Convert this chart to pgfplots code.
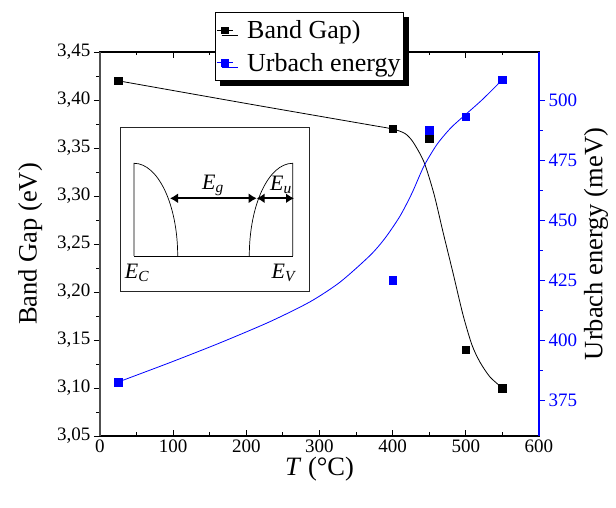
\documentclass[border=0pt]{standalone}
\usepackage{fontspec}
\setmainfont{Liberation Serif}
\usepackage{pgfplots}
\pgfplotsset{compat=1.18}
\usetikzlibrary{arrows.meta,shadows}
\definecolor{ublue}{RGB}{0,0,255}
\definecolor{lgray}{RGB}{80,80,80}

\pgfplotstableread{
T bg
25 3.42
400 3.37
450 3.36
500 3.14
550 3.10
}\bgdata

\pgfplotstableread{
T eu
25 382.5
400 425
450 487.5
500 493
550 508.5
}\eudata

\pgfplotstableread{
T bg
25 3.42
205 3.3957
369 3.374
400 3.3698
416.8 3.3651
427.8 3.3563
442.8 3.3354
456.5 3.302
468.8 3.2625
482.5 3.2198
496.2 3.176
508.4 3.1448
519.3 3.127
533 3.1115
550 3.10
}\bgfit

\pgfplotstableread{
T eu
25 382.5
95.7 390.6
164 398.8
232 407.6
287 415.9
328 424.1
369 435.2
389.5 442.4
410 451.6
426.4 461.2
442.8 472.5
460.6 481.5
478.3 488
492 491.9
522 500
550 508.5
}\eufit

\pgfplotsset{
  common/.style={
    at={(0,0)}, anchor=south west, scale only axis,
    width=439pt, height=384pt,
    xmin=0, xmax=600,
    major tick length=6pt, minor tick length=3.5pt,
    every tick/.style={line width=0.9pt},
    tick label style={font=\fontsize{19}{22}\selectfont},
    label style={font=\fontsize{26.5}{30}\selectfont},
    /pgf/number format/assume math mode=true,
  }
}

\begin{document}
\begin{tikzpicture}[x=1pt,y=1pt]
\useasboundingbox (-100,-72) rectangle (516,436);

% frame with x axis (ticks inside)
\begin{axis}[common,
  ymin=0, ymax=1, ytick=\empty,
  axis line style={line width=1.1pt, black},
  tick align=inside,
  xtick={0,100,...,600}, minor x tick num=1,
  xtick pos=both, xticklabel pos=bottom,
  xlabel={\textit{T} (°C)},
  xlabel style={yshift=2pt},
]
\end{axis}

% left axis: band gap
\begin{axis}[common,
  ymin=3.05, ymax=3.45,
  axis x line=none, axis y line*=left,
  xtick=\empty,
  y axis line style={line width=1.1pt, lgray},
  tick align=outside,
  ytick={3.05,3.10,...,3.45}, minor y tick num=1,
  yticklabel style={/pgf/number format/.cd, fixed, fixed zerofill, precision=2, use comma},
  ylabel={Band Gap (eV)},
  ylabel style={yshift=8pt},
]
\addplot[black, line width=0.8pt, smooth, tension=0.45] table[x=T,y=bg] {\bgfit};
\addplot[only marks, mark=square*, mark size=3.8pt, black] table[x=T,y=bg] {\bgdata};
\end{axis}

% right axis: Urbach energy
\begin{axis}[common,
  ymin=360, ymax=520,
  axis x line=none, axis y line*=right,
  xtick=\empty,
  y axis line style={line width=1.1pt, ublue},
  ytick style={ublue},
  tick align=outside,
  ytick={375,400,...,500}, minor y tick num=1,
  yticklabel style={text=ublue},
  ylabel={Urbach energy (meV)},
  legend style={at={(0.262,1.104)}, anchor=north west,
    font=\fontsize{26}{29}\selectfont, draw=black, line width=0.8pt, fill=white,
    inner xsep=1pt, inner ysep=6pt, row sep=9pt,
    /tikz/every odd column/.append style={column sep=12pt},
    drop shadow={shadow xshift=5pt, shadow yshift=-5pt, opacity=1, fill=black}},
  legend cell align=left,
  legend image code/.code={
    \draw[mark repeat=2,mark phase=2,#1] plot coordinates {(0pt,0pt) (8pt,0pt) (16pt,0pt)};},
]
\addlegendimage{black, line width=0.8pt, mark=square*, mark size=3.3pt, mark options={solid}}
\addlegendentry{Band Gap)}
\addlegendimage{ublue, line width=0.8pt, mark=square*, mark size=3.3pt, mark options={solid}}
\addlegendentry{Urbach energy}
\addplot[ublue, line width=0.8pt, smooth, tension=0.45, forget plot] table[x=T,y=eu] {\eufit};
\addplot[ublue, only marks, mark=square*, mark size=3.8pt, forget plot] table[x=T,y=eu] {\eudata};
\end{axis}

% inset schematic
\draw[black!85, line width=1pt, fill=white] (21,144) rectangle (209,308);
\draw[black, line width=0.7pt] (34,180) -- (34,272.7)
  .. controls (58.1,272.7) and (77.7,231.2) .. (77.7,180);
\draw[black, line width=0.7pt] (192.7,180) -- (192.7,272.7)
  .. controls (168.6,272.7) and (149.3,231.2) .. (149.3,180);
\draw[black, line width=0.7pt] (34,180) -- (192.7,180);
\draw[black, line width=2pt, {Latex[length=8pt,width=10pt]}-{Latex[length=8pt,width=10pt]}] (70,237.7) -- (156.7,237.7);
\draw[black, line width=2pt, {Latex[length=8pt,width=10pt]}-{Latex[length=8pt,width=10pt]}] (156.7,237.7) -- (194,237.7);
\node[font=\fontsize{22}{24}\selectfont] at (113,251) {\textit{E}\textsubscript{\textit{g}}};
\node[font=\fontsize{22}{24}\selectfont] at (181,251) {\textit{E}\textsubscript{\textit{u}}};
\node[font=\fontsize{22}{24}\selectfont] at (37,163) {\textit{E}\textsubscript{\textit{C}}};
\node[font=\fontsize{22}{24}\selectfont] at (184,163) {\textit{E}\textsubscript{\textit{V}}};
\end{tikzpicture}
\end{document}
